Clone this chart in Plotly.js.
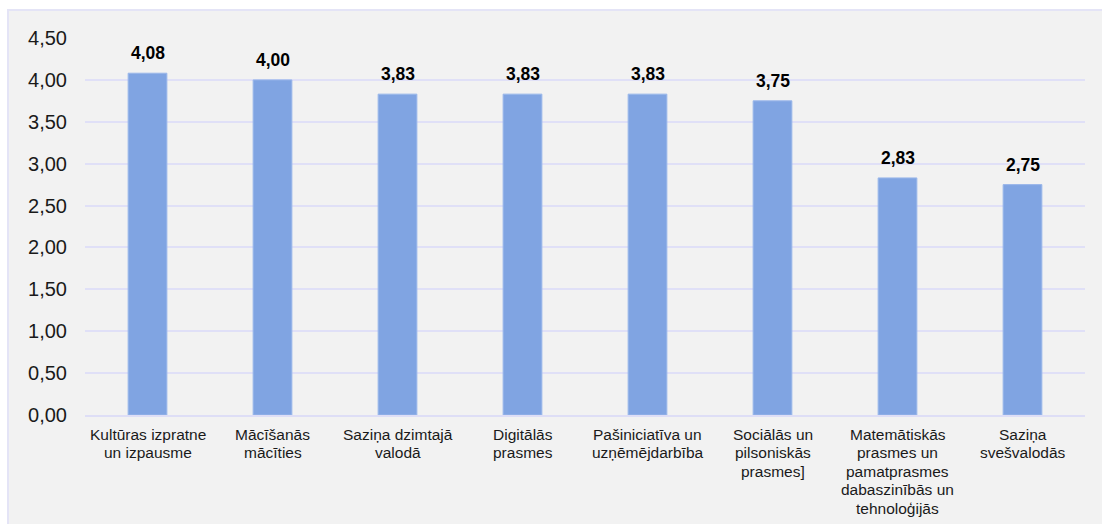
<!DOCTYPE html>
<html>
<head>
<meta charset="utf-8">
<script src="https://cdn.plot.ly/plotly-3.0.1.min.js"></script>
<style>
html,body{margin:0;padding:0;background:#ffffff;width:1102px;height:524px;overflow:hidden;}
#frame{position:absolute;left:7px;top:9px;width:1100px;height:520px;background:#f2f2f2;border-left:2px solid #e4e4f6;border-top:2px solid #e4e4f6;}
#chart{position:absolute;left:0;top:0;width:1102px;height:524px;}
</style>
</head>
<body>
<div id="frame"></div>
<div id="chart"></div>
<script>
const categories = [
  "Kultūras izpratne<br>un izpausme",
  "Mācīšanās<br>mācīties",
  "Saziņa dzimtajā<br>valodā",
  "Digitālās<br>prasmes",
  "Pašiniciatīva un<br>uzņēmējdarbība",
  "Sociālās un<br>pilsoniskās<br>prasmes]",
  "Matemātiskās<br>prasmes un<br>pamatprasmes<br>dabaszinībās un<br>tehnoloģijās",
  "Saziņa<br>svešvalodās"
];
const values = [4.08, 4.00, 3.83, 3.83, 3.83, 3.75, 2.83, 2.75];
const yTicks = [0, 0.5, 1, 1.5, 2, 2.5, 3, 3.5, 4, 4.5];

const fmt = v => v.toFixed(2).replace('.', ',');
const FONT = 'Liberation Sans, Arial, sans-serif';

const trace = {
  type: 'bar',
  x: categories,
  y: values,
  marker: {color: '#80a4e2', line: {color: '#9ab7ea', width: 1}},
  hoverinfo: 'none'
};

const annotations = categories.map((c, i) => ({
  x: c, y: values[i], xref: 'x', yref: 'y',
  text: '<b>' + fmt(values[i]) + '</b>',
  showarrow: false, yanchor: 'bottom', yshift: 8,
  font: {family: FONT, size: 17.5, color: '#000000'}
}));

// category labels, one annotation per line for tighter line spacing
categories.forEach(c => {
  c.split('<br>').forEach((line, k) => {
    annotations.push({
      x: c, y: 0, xref: 'x', yref: 'paper',
      text: line, showarrow: false,
      xanchor: 'center', yanchor: 'middle',
      yshift: -(19 + 18.5 * k),
      font: {family: FONT, size: 15.5, color: '#1a1a1a'}
    });
  });
});

const layout = {
  width: 1102, height: 524,
  margin: {l: 85, r: 17, t: 38, b: 109},
  paper_bgcolor: 'rgba(0,0,0,0)',
  plot_bgcolor: 'rgba(0,0,0,0)',
  separators: ',.',
  showlegend: false,
  bargap: 0.69,
  xaxis: {
    type: 'category',
    showticklabels: false,
    showline: true, linecolor: '#dedef6', linewidth: 2,
    ticks: '', showgrid: false, zeroline: false
  },
  yaxis: {
    range: [0, 4.5],
    tickvals: yTicks,
    ticktext: yTicks.map(fmt),
    tickfont: {family: FONT, size: 20, color: '#1a1a1a'},
    showgrid: true, gridcolor: '#e0e0f7', gridwidth: 2,
    zeroline: false, showline: false, ticks: '',
    ticklabelstandoff: 17
  },
  annotations: annotations
};

Plotly.newPlot('chart', [trace], layout, {displayModeBar: false, staticPlot: true});
</script>
</body>
</html>
